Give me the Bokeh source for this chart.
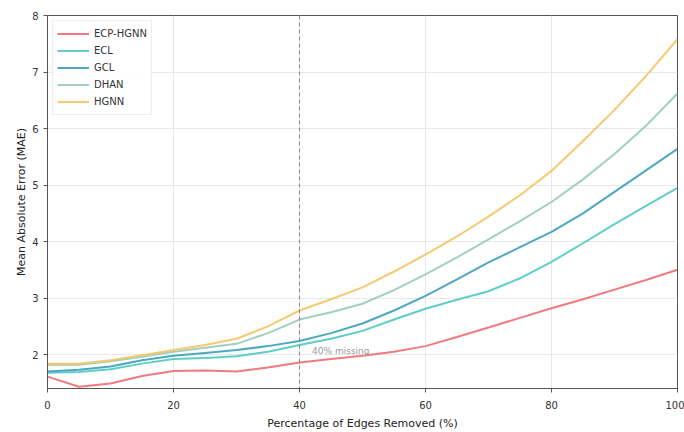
from bokeh.plotting import figure
from bokeh.models import Span, Label, Legend, LegendItem, FixedTicker
from bokeh.embed import file_html
from bokeh.resources import INLINE

x = [0, 5, 10, 15, 20, 25, 30, 35, 40, 45, 50, 55, 60, 65, 70, 75, 80, 85, 90, 95, 100]
ecp_hgnn = [1.61, 1.43, 1.49, 1.62, 1.71, 1.72, 1.70, 1.77, 1.86, 1.92, 1.98, 2.05, 2.15, 2.31, 2.48, 2.65, 2.82, 2.98, 3.15, 3.32, 3.50]
ecl = [1.68, 1.69, 1.74, 1.84, 1.92, 1.94, 1.97, 2.05, 2.17, 2.28, 2.42, 2.62, 2.81, 2.97, 3.12, 3.35, 3.64, 3.97, 4.31, 4.63, 4.95]
gcl = [1.70, 1.73, 1.79, 1.90, 1.98, 2.03, 2.08, 2.15, 2.24, 2.38, 2.55, 2.78, 3.04, 3.33, 3.63, 3.90, 4.17, 4.50, 4.88, 5.26, 5.64]
dhan = [1.82, 1.82, 1.88, 1.96, 2.05, 2.12, 2.19, 2.38, 2.62, 2.75, 2.90, 3.14, 3.42, 3.72, 4.04, 4.36, 4.70, 5.10, 5.55, 6.05, 6.62]
hgnn = [1.84, 1.84, 1.90, 1.99, 2.08, 2.17, 2.28, 2.50, 2.78, 2.98, 3.19, 3.47, 3.77, 4.09, 4.44, 4.82, 5.25, 5.78, 6.33, 6.93, 7.58]

names = ["ECP-HGNN", "ECL", "GCL", "DHAN", "HGNN"]
series = [ecp_hgnn, ecl, gcl, dhan, hgnn]
colors = ["#f06b73", "#4ec9c2", "#3a9fb8", "#97cbb9", "#f5c363"]

x_ticks = [0, 20, 40, 60, 80, 100]
y_ticks = [2, 3, 4, 5, 6, 7, 8]

FONT = "DejaVu Sans"

p = figure(width=684, height=432, x_range=(0, 100), y_range=(1.4, 8),
           output_backend="svg", toolbar_location=None,
           min_border_left=47, min_border_right=7, min_border_top=15, min_border_bottom=42)

p.outline_line_color = "#555555"
p.outline_line_width = 1
p.background_fill_color = "white"
p.border_fill_color = "white"

p.xgrid.grid_line_color = "#e8e8e8"
p.ygrid.grid_line_color = "#e8e8e8"
p.xaxis.ticker = FixedTicker(ticks=x_ticks)
p.yaxis.ticker = FixedTicker(ticks=y_ticks)
p.xgrid.ticker = FixedTicker(ticks=x_ticks)
p.ygrid.ticker = FixedTicker(ticks=y_ticks)

for ax in (p.xaxis[0], p.yaxis[0]):
    ax.axis_line_color = "#555555"
    ax.major_tick_line_color = "#555555"
    ax.minor_tick_line_color = None
    ax.major_tick_out = 4
    ax.major_tick_in = 0
    ax.major_label_text_font = FONT
    ax.major_label_text_font_size = "10px"
    ax.major_label_text_color = "#333333"
    ax.axis_label_text_font = FONT
    ax.axis_label_text_font_size = "11px"
    ax.axis_label_text_font_style = "normal"
    ax.axis_label_text_color = "#222222"

p.xaxis.major_label_standoff = 8
p.xaxis.axis_label_standoff = 5
p.yaxis.axis_label_standoff = 1

p.xaxis.axis_label = "Percentage of Edges Removed (%)"
p.yaxis.axis_label = "Mean Absolute Error (MAE)"

items = []
for name, ys, c in zip(names, series, colors):
    r = p.line(x, ys, line_color=c, line_width=2, line_alpha=0.9)
    items.append(LegendItem(label=name, renderers=[r]))

vline = Span(location=40, dimension="height", line_color="#888888",
             line_dash="4 3", line_width=1)
p.add_layout(vline)

lab = Label(x=42, y=1.98, text="40% missing", text_color="#999999",
            text_font=FONT, text_font_size="9px")
p.add_layout(lab)

legend = Legend(items=items, location="top_left")
legend.label_text_font = FONT
legend.label_text_font_size = "10px"
legend.label_text_color = "#333333"
legend.border_line_color = "#dddddd"
legend.background_fill_alpha = 0.9
legend.glyph_width = 32
legend.glyph_height = 17
legend.label_height = 17
legend.spacing = 0
legend.padding = 4
legend.margin = 5
p.add_layout(legend)

open("out.html", "w").write(file_html(p, INLINE))
